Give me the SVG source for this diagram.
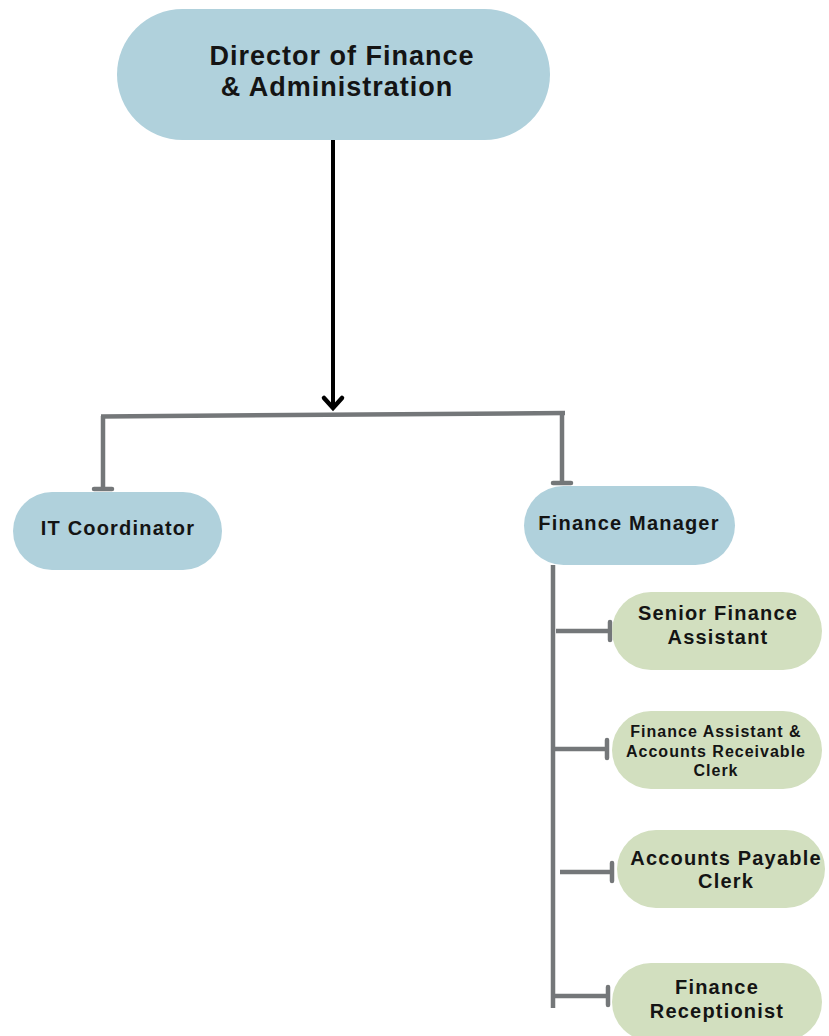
<svg xmlns="http://www.w3.org/2000/svg" width="829" height="1036" viewBox="0 0 829 1036">
<style>
.blue{fill:#b0d1dc}
.green{fill:#d2dfbf}
.t{font-family:"Liberation Sans",Arial,sans-serif;font-weight:bold;fill:#141414;text-anchor:middle}
.t28{font-size:27px;letter-spacing:1px}
.t20{font-size:20px;letter-spacing:1.2px}
.t16{font-size:16px;letter-spacing:1px}
.gray{stroke:#747779;stroke-width:4.5;fill:none}
.black{stroke:#000;stroke-width:4;fill:none}
</style>
<defs>
<marker id="tee" markerUnits="userSpaceOnUse" markerWidth="20" markerHeight="24" refX="0" refY="12" orient="auto" overflow="visible">
<path d="M0,3 L0,21" stroke="#747779" stroke-width="4.5" stroke-linecap="round"/>
</marker>
<marker id="arrow" markerUnits="userSpaceOnUse" markerWidth="24" markerHeight="24" refX="12" refY="12" orient="auto" overflow="visible">
<path d="M2,3 L12,12 L2,21" stroke="#000" stroke-width="4.5" fill="none" stroke-linecap="round" stroke-linejoin="miter"/>
</marker>
</defs>
<g id="connectors">
<path class="black" d="M333,140 L333,408" marker-end="url(#arrow)"/>
<path class="gray" d="M101,416.5 L565,413"/>
<path class="gray" d="M103,416 L103,489" marker-end="url(#tee)"/>
<path class="gray" d="M562,413 L562,483" marker-end="url(#tee)"/>
<path class="gray" d="M553,565 L553,1008"/>
<path class="gray" d="M556,631 L610,631" marker-end="url(#tee)"/>
<path class="gray" d="M553,749 L607,749" marker-end="url(#tee)"/>
<path class="gray" d="M560,872 L612,872" marker-end="url(#tee)"/>
<path class="gray" d="M553,996 L608,996" marker-end="url(#tee)"/>
</g>
<g id="director">
<rect class="blue" x="117" y="9" width="433" height="131" rx="65.5"/>
<text class="t t28" x="342" y="65">Director of Finance</text>
<text class="t t28" x="337" y="96">&amp; Administration</text>
</g>
<g id="it-coordinator">
<rect class="blue" x="13" y="492" width="209" height="78" rx="39"/>
<text class="t t20" x="118" y="535">IT Coordinator</text>
</g>
<g id="finance-manager">
<rect class="blue" x="524" y="486" width="211" height="79" rx="39.5"/>
<text class="t t20" x="629" y="530">Finance Manager</text>
</g>
<g id="senior-finance-assistant">
<rect class="green" x="612" y="592" width="210" height="78" rx="39"/>
<text class="t t20" x="718" y="620">Senior Finance</text>
<text class="t t20" x="718" y="644">Assistant</text>
</g>
<g id="finance-assistant-ar-clerk">
<rect class="green" x="612" y="711" width="210" height="78" rx="39"/>
<text class="t t16" x="716" y="737">Finance Assistant &amp;</text>
<text class="t t16" x="716" y="757">Accounts Receivable</text>
<text class="t t16" x="716" y="776">Clerk</text>
</g>
<g id="accounts-payable-clerk">
<rect class="green" x="617" y="830" width="208" height="78" rx="39"/>
<text class="t t20" x="726" y="865">Accounts Payable</text>
<text class="t t20" x="726" y="888">Clerk</text>
</g>
<g id="finance-receptionist">
<rect class="green" x="612" y="963" width="210" height="78" rx="39"/>
<text class="t t20" x="717" y="994">Finance</text>
<text class="t t20" x="717" y="1018">Receptionist</text>
</g>
</svg>
